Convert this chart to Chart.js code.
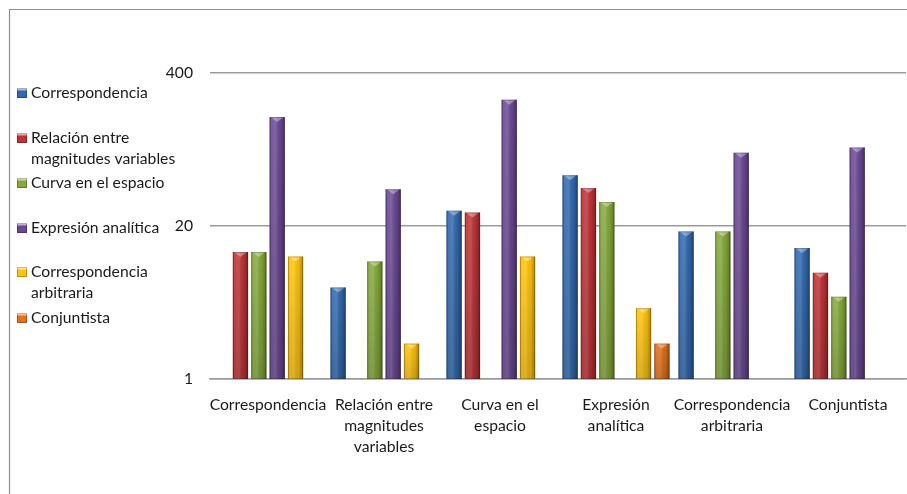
<!DOCTYPE html>
<html>
<head>
<meta charset="utf-8">
<script src="https://cdn.jsdelivr.net/npm/chart.js@4.4.1/dist/chart.umd.min.js"></script>
<style>
  html, body { margin: 0; padding: 0; background: #fff; }
  #wrap { position: relative; width: 907px; height: 494px; }
</style>
</head>
<body>
<div id="wrap"><canvas id="c" width="907" height="494"></canvas></div>
<script>
// Categories on the x axis (multi-line labels)
const categories = [
  ['Correspondencia'],
  ['Relación entre', 'magnitudes', 'variables'],
  ['Curva en el', 'espacio'],
  ['Expresión', 'analítica'],
  ['Correspondencia', 'arbitraria'],
  ['Conjuntista']
];

// Series names (legend), "\n" marks a line break
const seriesNames = [
  'Correspondencia',
  'Relación entre\nmagnitudes variables',
  'Curva en el espacio',
  'Expresión analítica',
  'Correspondencia\narbitraria',
  'Conjuntista'
];

// Values per series, one per category (null = no bar)
const correspondencia      = [null, 6, 27, 54, 18, 13];
const relacionMagnitudes   = [12, null, 26, 42, null, 8];
const curvaEspacio         = [12, 10, null, 32, 18, 5];
const expresionAnalitica   = [169, 41, 237, null, 84, 93];
const corrArbitraria       = [11, 2, 11, 4, null, null];
const conjuntista          = [null, null, null, 2, null, null];

// Y axis tick labels
const yTicks = [1, 20, 400];

const seriesColors = ['#3169B0', '#BE3235', '#84A93A', '#6A4895', '#FFC40C', '#E4701A'];
const seriesValues = [correspondencia, relacionMagnitudes, curvaEspacio, expresionAnalitica, corrArbitraria, conjuntista];

const FONT = 'Lato, "Open Sans", "Liberation Sans", sans-serif';
const FONT_SIZE = 15.7;
const TEXT = '#1a1a1a';
const GRID = '#9b9b9b';

// Gives each bar a rounded, beveled look
const bevelPlugin = {
  id: 'bevel',
  afterDatasetsDraw(chart) {
    const ctx = chart.ctx;
    chart.data.datasets.forEach((ds, di) => {
      const meta = chart.getDatasetMeta(di);
      if (meta.hidden) return;
      meta.data.forEach((el, i) => {
        if (ds.data[i] == null) return;
        const p = el.getProps(['x', 'y', 'base', 'width'], true);
        const l = p.x - p.width / 2, r = p.x + p.width / 2;
        const t = p.y, b = p.base;
        if (b - t < 1) return;
        ctx.save();
        let g = ctx.createLinearGradient(l, 0, r, 0);
        g.addColorStop(0, 'rgba(0,0,0,0.10)');
        g.addColorStop(0.12, 'rgba(255,255,255,0.10)');
        g.addColorStop(0.4, 'rgba(255,255,255,0.16)');
        g.addColorStop(0.7, 'rgba(0,0,0,0.05)');
        g.addColorStop(1, 'rgba(0,0,0,0.32)');
        ctx.fillStyle = g;
        ctx.fillRect(l, t, r - l, b - t);
        g = ctx.createLinearGradient(0, t, 0, b);
        g.addColorStop(0, 'rgba(0,0,0,0)');
        g.addColorStop(1, 'rgba(0,0,0,0.14)');
        ctx.fillStyle = g;
        ctx.fillRect(l, t, r - l, b - t);
        // top chevron highlight
        ctx.beginPath();
        ctx.moveTo(l + 1, t);
        ctx.lineTo(r - 1, t);
        ctx.lineTo(p.x, t + 5);
        ctx.closePath();
        ctx.fillStyle = 'rgba(255,255,255,0.35)';
        ctx.fill();
        ctx.strokeStyle = 'rgba(0,0,0,0.22)';
        ctx.lineWidth = 1;
        ctx.strokeRect(l + 0.5, t + 0.5, r - l - 1, b - t - 1);
        ctx.restore();
      });
    });
  }
};

// Legend on the left with wrapped entries, plus the frame lines
const sideLegend = {
  id: 'sideLegend',
  afterDraw(chart) {
    const ctx = chart.ctx;
    ctx.save();
    // frame
    ctx.strokeStyle = '#8f8f8f';
    ctx.lineWidth = 1.2;
    ctx.beginPath();
    ctx.moveTo(9.5, chart.height);
    ctx.lineTo(9.5, 9.5);
    ctx.lineTo(chart.width, 9.5);
    ctx.stroke();

    const firstLineY = [93, 138, 183, 228, 272, 318];
    const lineGap = 20.5;
    ctx.font = FONT_SIZE + 'px ' + FONT;
    ctx.textBaseline = 'middle';
    ctx.textAlign = 'left';
    chart.data.datasets.forEach((ds, i) => {
      const y0 = firstLineY[i];
      const mx = 17, my = y0 - 5, ms = 10;
      const g = ctx.createLinearGradient(0, my, 0, my + ms);
      g.addColorStop(0, '#ffffff');
      g.addColorStop(0.35, ds.backgroundColor);
      g.addColorStop(1, ds.backgroundColor);
      ctx.fillStyle = g;
      ctx.fillRect(mx, my, ms, ms);
      ctx.strokeStyle = 'rgba(0,0,0,0.25)';
      ctx.lineWidth = 1;
      ctx.strokeRect(mx + 0.5, my + 0.5, ms - 1, ms - 1);
      ctx.fillStyle = TEXT;
      ds.label.split('\n').forEach((line, k) => {
        ctx.fillText(line, 31, y0 + k * lineGap);
      });
    });
    ctx.restore();
  }
};

new Chart(document.getElementById('c'), {
  type: 'bar',
  data: {
    labels: categories,
    datasets: seriesNames.map((name, i) => ({
      label: name,
      data: seriesValues[i],
      backgroundColor: seriesColors[i],
      borderWidth: 0
    }))
  },
  options: {
    responsive: false,
    animation: false,
    events: [],
    layout: { padding: { top: 73, right: 1, left: 0, bottom: 0 } },
    categoryPercentage: 0.95,
    barPercentage: 0.83,
    plugins: {
      legend: { display: false },
      tooltip: { enabled: false }
    },
    scales: {
      x: {
        grid: { display: false },
        border: { display: true, color: GRID, width: 1.5 },
        ticks: {
          color: TEXT,
          font: { family: FONT, size: FONT_SIZE, lineHeight: 1.34 },
          padding: 7,
          maxRotation: 0,
          autoSkip: false
        },
        afterFit(scale) { scale.height = 115; }
      },
      y: {
        type: 'logarithmic',
        min: 1,
        max: 400,
        afterBuildTicks(scale) {
          scale.ticks = yTicks.map(v => ({ value: v }));
        },
        afterFit(scale) { scale.width = 210; },
        grid: { color: GRID, lineWidth: 1.5, drawTicks: false },
        border: { display: false },
        ticks: {
          color: TEXT,
          font: { family: FONT, size: FONT_SIZE },
          padding: 17,
          callback: v => String(v)
        }
      }
    }
  },
  plugins: [bevelPlugin, sideLegend]
});
</script>
</body>
</html>
